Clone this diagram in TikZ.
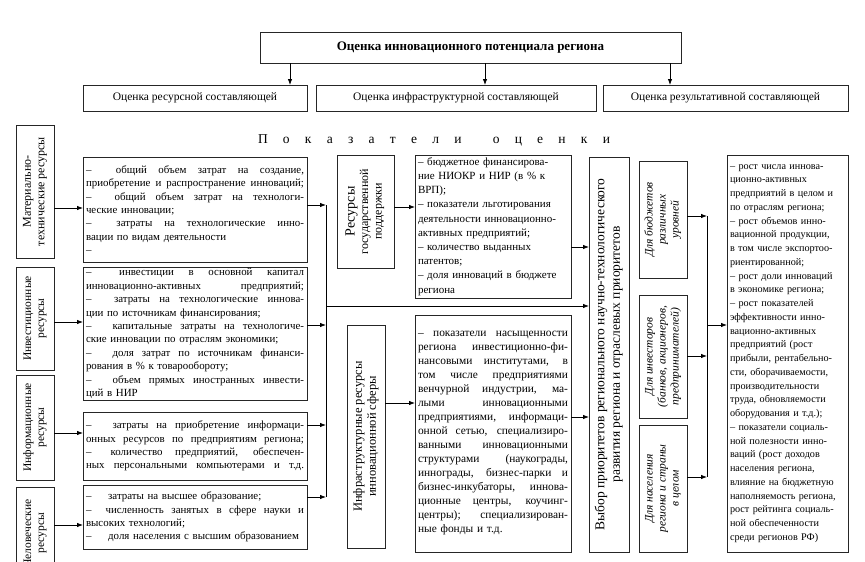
\documentclass[tikz,border=0pt]{standalone}
\usepackage{fontspec}
\setmainfont{Liberation Serif}
\usepackage{graphicx}
\usetikzlibrary{arrows.meta}
\newcommand\jlast[1]{\leavevmode\hbox to \hsize{\spaceskip=0.25em plus 1fil\relax\xspaceskip=\spaceskip #1}}
\newcommand\jl[1]{\jlast{#1}\\}
\newcommand\vtxt[1]{\rotatebox{90}{\begin{tabular}{@{}c@{}}#1\end{tabular}}}
\begin{document}
\begin{tikzpicture}[x=1pt,y=-1pt,
  bx/.style={draw=black!85, line width=0.8pt, inner sep=0pt, outer sep=0pt},
  arr/.style={-{Latex[length=6pt,width=4.5pt]}, line width=0.8pt},
  ln/.style={line width=0.8pt},
  tb/.style={bx, inner xsep=3pt, align=left},
  mt/.style={tb, minimum width=224pt, text width=218pt, font=\fontsize{10.9}{13.4}\selectfont},
  vb/.style={bx, font=\fontsize{11.5}{13}\selectfont},
  db/.style={bx, font=\fontsize{11.5}{13}\selectfont\itshape}
]
\useasboundingbox (0,0) rectangle (865,562);
\clip (0,0) rectangle (865,562);
\fill[white] (0,0) rectangle (865,562);

% top
\node[bx, minimum width=421pt, minimum height=31pt, font=\fontsize{13}{15}\selectfont\bfseries] (top) at (470.5,47.5) {Оценка инновационного потенциала региона};
\node[bx, minimum width=224pt, minimum height=26pt, font=\fontsize{11.5}{13}\selectfont] (b1) at (195,98) {Оценка ресурсной составляющей};
\node[bx, minimum width=280pt, minimum height=26pt, font=\fontsize{11.5}{13}\selectfont] (b2) at (456,98) {Оценка инфраструктурной составляющей};
\node[bx, minimum width=245pt, minimum height=26pt, font=\fontsize{11.5}{13}\selectfont] (b3) at (725.5,98) {Оценка результативной составляющей};
\coordinate (xa) at (290,0);
\coordinate (xb) at (485,0);
\coordinate (xc) at (670,0);
\draw[arr] (top.south -| xa) -- (b1.north -| xa);
\draw[arr] (top.south -| xb) -- (b2.north -| xb);
\draw[arr] (top.south -| xc) -- (b3.north -| xc);

\node (pk) at (434,140) {\fontsize{13.5}{15}\selectfont\makebox[352pt][s]{П о к а з а т е л и\hspace{16pt} о ц е н к и}};

% left column
\node[vb, minimum width=38pt, minimum height=133pt, font=\fontsize{12}{13.5}\selectfont] (l1) at (35,191.5) {\vtxt{Материально-\\технические ресурсы}};
\node[vb, minimum width=38pt, minimum height=103pt] (l2) at (35,318.5) {\vtxt{Инвестиционные\\ресурсы}};
\node[vb, minimum width=38pt, minimum height=105pt] (l3) at (35,427.5) {\vtxt{Информационные\\ресурсы}};
\node[vb, minimum width=38pt, minimum height=92pt] (l4) at (35,533) {\vtxt{Человеческие\\ресурсы}};

\node[mt, minimum height=105pt] (m1) at (195,209.5) {%
\jl{–\hspace{1.2em} общий объем затрат на создание,}
\jl{приобретение и распространение инноваций;}
\jl{–\hspace{1.2em} общий объем затрат на технологи-}
ческие инновации;\\
\jl{–\hspace{1.2em} затраты на технологические инно-}
вации по видам деятельности\\
–};
\node[mt, minimum height=133pt] (m2) at (195,333.5) {%
\jl{–\hspace{1.2em} инвестиции в основной капитал}
\jl{инновационно-активных предприятий;}
\jl{–\hspace{1.2em} затраты на технологические иннова-}
ции по источникам финансирования;\\
\jl{–\hspace{1.2em} капитальные затраты на технологиче-}
ские инновации по отраслям экономики;\\
\jl{–\hspace{1.2em} доля затрат по источникам финанси-}
рования в \% к товарообороту;\\
\jl{–\hspace{1.2em} объем прямых иностранных инвести-}
ций в НИР};
\node[mt, minimum height=68pt] (m3) at (195,446) {%
\jl{–\hspace{1.2em} затраты на приобретение информаци-}
\jl{онных ресурсов по предприятиям региона;}
\jl{–\hspace{0.6em} количество предприятий, обеспечен-}
\jlast{ных персональными компьютерами и т.д.}};
\node[mt, minimum height=64pt] (m4) at (195,517) {%
–\hspace{1.2em} затраты на высшее образование;\\
\jl{–\hspace{0.6em} численность занятых в сфере науки и}
высоких технологий;\\
–\hspace{1.2em} доля населения с высшим образованием};

\draw[arr] (l1.east |- 0,208) -- (m1.west |- 0,208);
\draw[arr] (l2.east |- 0,322) -- (m2.west |- 0,322);
\draw[arr] (l3.east |- 0,433) -- (m3.west |- 0,433);
\draw[arr] (l4.east |- 0,525) -- (m4.west |- 0,525);

\coordinate (vl) at (326,0);
\draw[arr] (m1.east |- 0,205) -- (vl |- 0,205);
\draw[arr] (m2.east |- 0,325) -- (vl |- 0,325);
\draw[arr] (m3.east |- 0,425) -- (vl |- 0,425);
\draw[arr] (m4.east |- 0,497) -- (vl |- 0,497);
\draw[ln] (vl |- 0,205) -- (vl |- 0,497);

% middle
\node[bx, minimum width=57pt, minimum height=113pt, font=\fontsize{12}{13.5}\selectfont] (g1) at (365.5,211.5) {\vtxt{{\fontsize{14}{15}\selectfont Ресурсы}\\государственной\\поддержки}};
\node[tb, minimum width=156pt, minimum height=143pt, text width=150pt, font=\fontsize{11}{14.2}\selectfont] (g2) at (493,226.5) {%
– бюджетное финансирова-\\
ние НИОКР и НИР (в \% к\\
ВРП);\\
– показатели льготирования\\
деятельности инновационно-\\
активных предприятий;\\
– количество выданных\\
патентов;\\
– доля инноваций в бюджете\\
региона};
\node[bx, minimum width=38pt, minimum height=223pt, font=\fontsize{12.5}{14}\selectfont] (i1) at (366,436.5) {\vtxt{Инфраструктурные ресурсы\\инновационной сферы}};
\node[tb, minimum width=156pt, minimum height=237pt, text width=150pt, font=\fontsize{11.4}{14}\selectfont] (i2) at (493,433.5) {%
\jl{– показатели насыщенности}
\jl{региона инвестиционно-фи-}
\jl{нансовыми институтами, в}
\jl{том числе предприятиями}
\jl{венчурной индустрии, ма-}
\jl{лыми инновационными}
\jl{предприятиями, информаци-}
\jl{онной сетью, специализиро-}
\jl{ванными инновационными}
\jl{структурами (наукограды,}
\jl{иннограды, бизнес-парки и}
\jl{бизнес-инкубаторы, иннова-}
\jl{ционные центры, коучинг-}
\jl{центры); специализирован-}
ные фонды и т.д.};

\draw[arr] (g1.east |- 0,207) -- (g2.west |- 0,207);
\draw[arr] (i1.east |- 0,403) -- (i2.west |- 0,403);

% choice box
\node[bx, minimum width=40pt, minimum height=395pt, font=\fontsize{13.5}{15.5}\selectfont] (v) at (609,354.5) {\vtxt{Выбор приоритетов регионального научно-технологического\\развития региона и отраслевых приоритетов}};
\draw[arr] (g2.east |- 0,247) -- (v.west |- 0,247);
\draw[arr] (i2.east |- 0,417) -- (v.west |- 0,417);
\draw[arr] (vl |- 0,306) -- (v.west |- 0,306);

% for whom
\node[db, minimum width=48pt, minimum height=117pt] (d1) at (663,219.5) {\vtxt{Для бюджетов\\различных\\уровней}};
\node[db, minimum width=48pt, minimum height=123pt] (d2) at (663,356.5) {\vtxt{Для инвесторов\\(банков, акционеров,\\предпринимателей)}};
\node[db, minimum width=48pt, minimum height=127pt] (d3) at (663,488.5) {\vtxt{Для населения\\региона и страны\\в целом}};

\node[tb, minimum width=121pt, minimum height=397pt, text width=115pt, font=\fontsize{10.2}{13.75}\selectfont] (r) at (787.5,353.5) {%
– рост числа иннова-\\
ционно-активных\\
предприятий в целом и\\
по отраслям региона;\\
– рост объемов инно-\\
вационной продукции,\\
в том числе экспортоо-\\
риентированной;\\
– рост доли инноваций\\
в экономике региона;\\
– рост показателей\\
эффективности инно-\\
вационно-активных\\
предприятий (рост\\
прибыли, рентабельно-\\
сти, оборачиваемости,\\
производительности\\
труда, обновляемости\\
оборудования и т.д.);\\
– показатели социаль-\\
ной полезности инно-\\
ваций (рост доходов\\
населения региона,\\
влияние на бюджетную\\
наполняемость региона,\\
рост рейтинга социаль-\\
ной обеспеченности\\
среди регионов РФ)};

\coordinate (vr) at (707,0);
\draw[arr] (d1.east |- 0,216) -- (vr |- 0,216);
\draw[arr] (d2.east |- 0,356) -- (vr |- 0,356);
\draw[arr] (d3.east |- 0,477) -- (vr |- 0,477);
\draw[ln] (vr |- 0,216) -- (vr |- 0,477);
\draw[arr] (vr |- 0,325) -- (r.west |- 0,325);
\end{tikzpicture}
\end{document}
